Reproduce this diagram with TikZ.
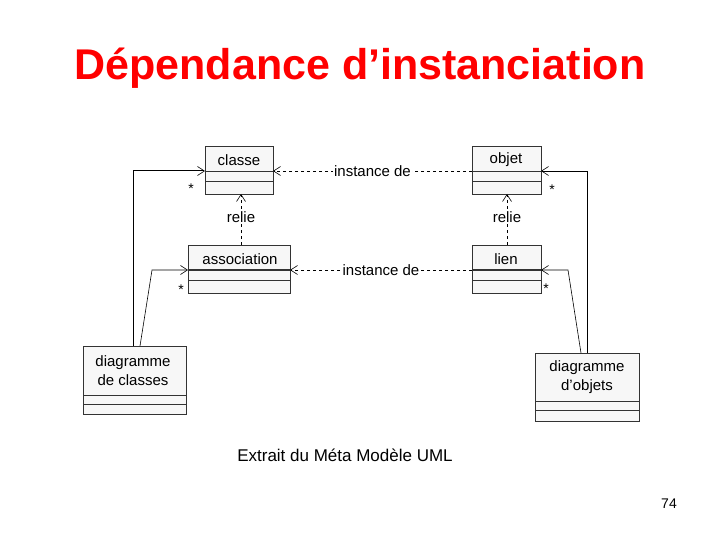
\documentclass[tikz,border=0pt]{standalone}
\usepackage{fontspec}
\setmainfont{Liberation Sans}
\usetikzlibrary{arrows.meta}
\begin{document}
\begin{tikzpicture}[x=1pt,y=-1pt,
  cls/.style={draw=black!80,fill=black!3,line width=0.8pt},
  lbl/.style={font=\fontsize{15}{19}\selectfont,inner sep=1pt},
  dep/.style={dashed,line width=0.6pt,-{Straight Barb[length=7pt,width=9pt,line width=0.6pt]}},
  assoc/.style={line width=0.6pt,-{Straight Barb[length=7pt,width=9pt,line width=0.6pt]}},
  star/.style={font=\fontsize{14}{14}\selectfont,inner sep=0pt}]
\useasboundingbox (0,0) rectangle (720,540);
\node[text=red,font=\bfseries\fontsize{43}{48}\selectfont] (title) at (360,68) {Dépendance d’instanciation};
% boxes
\draw[cls] (205,146) rectangle (273,194); \draw[black!80] (205,171)--(273,171) (205,181)--(273,181);
\node[lbl] (classe) at (239,160) {classe};
\coordinate (classeL) at (205,171); \coordinate (classeR) at (273,171); \coordinate (classeB) at (241,194);
\draw[cls] (472,146) rectangle (541,194); \draw[black!80] (472,171)--(541,171) (472,181)--(541,181);
\node[lbl] (objet) at (506,160) {objet};
\coordinate (objetL) at (472,171); \coordinate (objetR) at (541,171); \coordinate (objetB) at (507,194);
\draw[cls] (188,245) rectangle (290,293); \draw[black!80,line width=1.4pt] (188,270)--(290,270); \draw[black!80] (188,280)--(290,280);
\node[lbl] (assoc) at (240,259) {association};
\coordinate (assocL) at (188,270); \coordinate (assocR) at (290,270); \coordinate (assocT) at (241,245);
\draw[cls] (472,245) rectangle (541,293); \draw[black!80,line width=1.4pt] (472,270)--(541,270); \draw[black!80] (472,280)--(541,280);
\node[lbl] (lien) at (506,259) {lien};
\coordinate (lienL) at (472,270); \coordinate (lienR) at (541,270); \coordinate (lienT) at (507,245);
\draw[cls] (83,346) rectangle (186,414); \draw[black!80] (83,395)--(186,395) (83,404)--(186,404);
\node[lbl,align=center] (dc) at (133,371) {diagramme\\de classes};
\coordinate (dcT1) at (133,346); \coordinate (dcT2) at (140,346);
\draw[cls] (535,353) rectangle (639,421); \draw[black!80] (535,401)--(639,401) (535,410)--(639,410);
\node[lbl,align=center] (do) at (587,377) {diagramme\\d'objets};
\coordinate (doT1) at (587,353); \coordinate (doT2) at (581,353);
% dependencies
\draw[dep] (objetL) -- node[lbl,fill=white] (i1) {instance de} (classeR);
\draw[dep] (lienL) -- node[lbl,fill=white] (i2) {instance de} (assocR);
\draw[dep] (assocT) -- node[lbl,fill=white,pos=0.55] (r1) {relie} (classeB);
\draw[dep] (lienT) -- node[lbl,fill=white,pos=0.55] (r2) {relie} (objetB);
% associations
\draw[assoc,line width=1pt] (dcT1) -- (133,171) -- (classeL);
\draw[assoc] (dcT2) -- (152,270) -- (assocL);
\draw[assoc] (doT1) -- (587,171) -- (objetR);
\draw[assoc] (doT2) -- (568,270) -- (lienR);
\node[star] (s1) at (191,189) {*};
\node[star] (s2) at (181,290) {*};
\node[star] (s3) at (552,190) {*};
\node[star] (s4) at (546,289) {*};
\node[font=\fontsize{17}{20}\selectfont] (cap) at (345,455) {Extrait du Méta Modèle UML};
\node[font=\fontsize{14}{16}\selectfont] (pg) at (669,504) {74};
\end{tikzpicture}
\end{document}
